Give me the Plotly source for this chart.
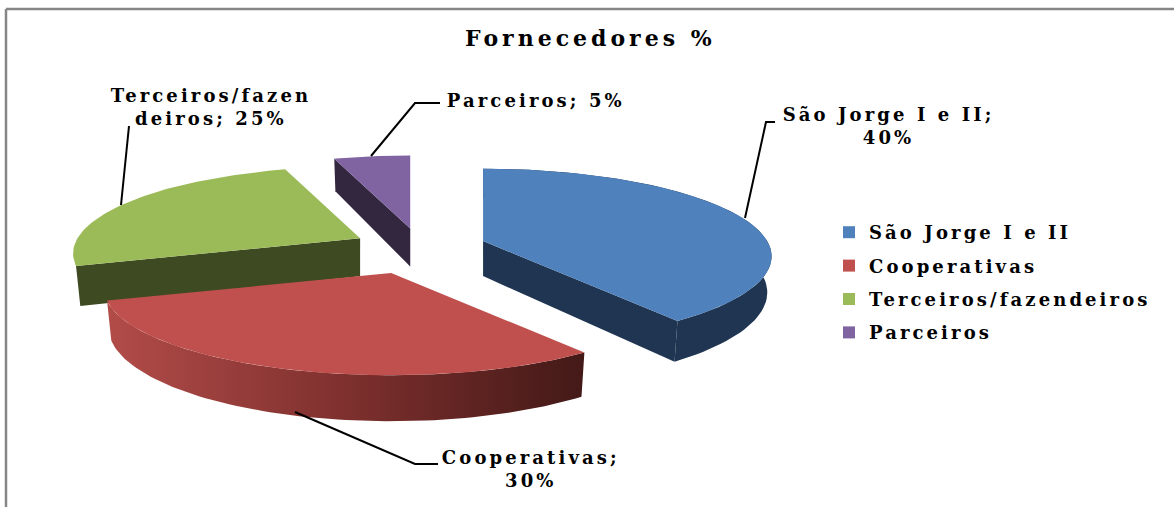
import numpy as np
import plotly.graph_objects as go

# Data
categories = ["São Jorge I e II", "Cooperativas", "Terceiros/fazendeiros", "Parceiros"]
values = [40, 30, 25, 5]
slice_labels = ["São Jorge I e II;<br>40%", "Cooperativas;<br>30%",
                "Terceiros/fazen<br>deiros; 25%", "Parceiros; 5%"]
title_text = "Fornecedores %"

# Styles
top_colors = ["#4F81BD", "#C0504D", "#9BBB59", "#8064A2"]
side_colors = ["#1F3552", "#4A1C1A", "#3E4A21", "#33263F"]
FONT = dict(family="DejaVu Serif", size=18, color="#000000")

# Projection of the tilted pie (perspective ellipse), in page pixels
CX, CY = 420, 247
R, RY, K = 287, 85.8, 0.176
DEPTHS = [35, 38, 38, 38]
SHIFT_X = [2, -8, -3, 0]
SHIFT_Y = [0, 2, 0, 0]
RADIAL = [0.99, 0.985, 0.985, 1.0]
PULL = 65
BOTTOM_SHRINK = 0.985


def project(t, radius=1.0):
    s = 1 / (1 + K * radius * np.cos(t))
    return radius * R * s * np.sin(t), -radius * RY * s * np.cos(t), s


fracs = np.array(values) / sum(values)
ends = np.cumsum(fracs) * 2 * np.pi
starts = ends - fracs * 2 * np.pi
fig = go.Figure()


def poly(xs, ys, color, grad=None):
    kw = dict(fillgradient=grad) if grad else dict(fillcolor=color)
    fig.add_trace(go.Scatter(x=xs, y=ys, mode="lines", fill="toself", line=dict(width=0, color=color),
                             showlegend=False, hoverinfo="skip", **kw))


# painter's order: far slices first
red_grad = dict(type="horizontal", colorscale=[[0, "#B24C49"], [0.5, "#7E302E"], [1, "#431917"]])
for i in [3, 2, 0, 1]:
    t = np.linspace(starts[i], ends[i], 80)
    mid = (starts[i] + ends[i]) / 2
    ox, oy, _ = project(mid, PULL / R)
    ax, ay = CX + ox + SHIFT_X[i], CY + oy * (1.25 if i == 1 else 1) + SHIFT_Y[i]
    px, py, ps = project(t, RADIAL[i])
    x, y = ax + px, ay + py
    d = DEPTHS[i] * ps
    xb = ax + px * BOTTOM_SHRINK
    yb = y + d
    # outer rim (only the front slices show one)
    if i in (0, 1):
        poly(np.r_[x, xb[::-1]], np.r_[y, yb[::-1]], side_colors[i], red_grad if i == 1 else None)
    # inner cut faces seen from the front
    if i == 0:
        poly([ax, x[-1], xb[-1], ax], [ay, y[-1], yb[-1], ay + DEPTHS[i]], side_colors[i])
    if i in (2, 3):
        poly([ax, x[0], xb[0], ax], [ay, y[0], yb[0], ay + DEPTHS[i]], side_colors[i])
    # top surface
    poly(np.r_[ax, x], np.r_[ay, y], top_colors[i])

# Leader lines
leaders = [([775, 766, 745], [122, 122, 218]),
           ([438, 415, 295], [464, 464, 412]),
           ([129, 121], [126, 205]),
           ([440, 415, 371], [103, 103, 156])]
for lx, ly in leaders:
    fig.add_trace(go.Scatter(x=lx, y=ly, mode="lines", line=dict(color="#000000", width=2),
                             showlegend=False, hoverinfo="skip"))

# Legend entries
for c, col in zip(categories, top_colors):
    fig.add_trace(go.Scatter(x=[None], y=[None], mode="markers", name=c, legendgroup=c,
                             marker=dict(symbol="square", size=12, color=col)))

# Data labels
label_pos = [(888, 126), (531, 469), (211, 107), (536, 100)]
annotations = []
for s, (px, py) in zip(slice_labels, label_pos):
    annotations.append(dict(x=px, y=py, showarrow=False, xref="x", yref="y", align="center", font=FONT,
                            text="<br>".join("<b>" + p + "</b>" for p in s.split("<br>"))))
annotations.append(dict(x=590, y=38, text="<b>" + title_text + "</b>", showarrow=False, xref="x", yref="y",
                        font=dict(family="DejaVu Serif", size=22, color="#000000")))

frame = dict(type="line", xref="x", yref="y", line=dict(color="#868686", width=2.5))
shapes = [dict(frame, x0=6, y0=9, x1=1174, y1=9), dict(frame, x0=6, y0=9, x1=6, y1=507)]

fig.update_layout(
    width=1174, height=507, margin=dict(l=0, r=0, t=0, b=0),
    paper_bgcolor="#FFFFFF", plot_bgcolor="#FFFFFF",
    xaxis=dict(range=[0, 1174], visible=False, fixedrange=True),
    yaxis=dict(range=[507, 0], visible=False, fixedrange=True),
    annotations=annotations, shapes=shapes,
    legend=dict(x=829 / 1174, y=1 - 214 / 507, xanchor="left", yanchor="top",
                bgcolor="rgba(0,0,0,0)", tracegroupgap=7,
                font=dict(family="DejaVu Serif", size=18, weight="bold", color="#000000")),
)
# The reference's text is stretched horizontally: widen it with letter spacing
post = """
document.body.style.margin = '0';
function spaceText() {
  document.querySelectorAll('.annotation-text').forEach(function (t) {
    t.style.letterSpacing = t.textContent.indexOf('Fornecedores') >= 0 ? '4px' : '3.1px';
  });
  document.querySelectorAll('.legendtext').forEach(function (t) {
    t.style.letterSpacing = '3.1px';
  });
  document.querySelectorAll('.legend, .legend .scrollbox').forEach(function (g) {
    g.removeAttribute('clip-path');
    g.style.clipPath = 'none';
    g.style.overflow = 'visible';
  });
}
spaceText();
setTimeout(spaceText, 50);
setTimeout(spaceText, 300);
"""
fig.write_html("out.html", post_script=post, config=dict(displayModeBar=False))
